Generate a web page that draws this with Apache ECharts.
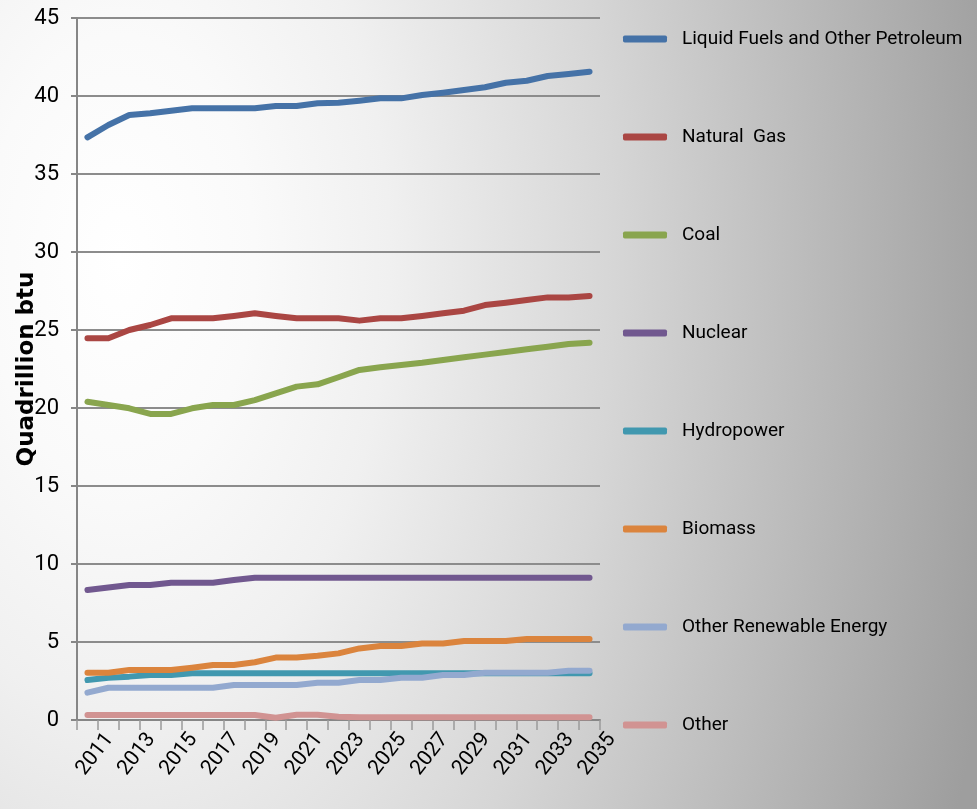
<!DOCTYPE html>
<html>
<head>
<meta charset="utf-8">
<title>Energy consumption by fuel</title>
<script src="https://cdn.jsdelivr.net/npm/echarts@6/dist/echarts.min.js"></script>
<style>
	html,body{margin:0;padding:0;}
	#main{
		width:977px;height:809px;
		background:radial-gradient(ellipse 900px 1500px at 120px 260px,#ffffff 0%,#fafafa 15%,#f0f0f0 30%,#d6d6d6 55%,#9e9e9e 100%);
	}
</style>
</head>
<body>
<div id="main"></div>
<script>
	// years on the x axis
	var years = [];
	for (var y = 2011; y <= 2035; y++) { years.push(String(y)); }

	var seriesNames = ['Liquid Fuels and Other Petroleum','Natural  Gas','Coal','Nuclear','Hydropower','Biomass','Other Renewable Energy','Other'];
	var seriesColors = ['#4572A7','#AA4643','#89A54E','#71588F','#4198AF','#DB843D','#93A9CF','#D19392'];

	// values (quadrillion btu)
	var liquids = [37.35,38.14,38.78,38.89,39.06,39.21,39.21,39.21,39.21,39.36,39.36,39.53,39.57,39.7,39.85,39.85,40.06,40.21,40.38,40.56,40.85,40.98,41.28,41.41,41.56];
	var gas = [24.47,24.47,25.0,25.32,25.75,25.75,25.75,25.9,26.07,25.9,25.75,25.75,25.75,25.6,25.75,25.75,25.9,26.07,26.24,26.6,26.75,26.92,27.09,27.09,27.18];
	var coal = [20.4,20.19,19.98,19.62,19.62,19.98,20.19,20.19,20.51,20.94,21.37,21.52,21.97,22.44,22.61,22.76,22.9,23.08,23.25,23.42,23.59,23.76,23.93,24.1,24.19];
	var nuclear = [8.33,8.5,8.65,8.65,8.8,8.8,8.8,8.97,9.12,9.12,9.12,9.12,9.12,9.12,9.12,9.12,9.12,9.12,9.12,9.12,9.12,9.12,9.12,9.12,9.12];
	var hydro = [2.56,2.71,2.78,2.88,2.88,2.99,3.0,3.0,3.0,3.0,3.0,3.0,3.0,3.0,3.0,3.0,3.0,3.0,3.0,3.0,3.0,3.0,3.0,3.0,3.0];
	var biomass = [3.03,3.03,3.2,3.2,3.2,3.35,3.53,3.53,3.7,4.0,4.0,4.12,4.27,4.59,4.74,4.74,4.91,4.91,5.06,5.06,5.06,5.19,5.19,5.19,5.19];
	var otherRenew = [1.75,2.07,2.07,2.07,2.07,2.07,2.07,2.24,2.24,2.24,2.24,2.39,2.39,2.56,2.56,2.71,2.71,2.88,2.88,3.03,3.03,3.03,3.03,3.16,3.16];
	var other = [0.32,0.32,0.32,0.32,0.32,0.32,0.32,0.32,0.32,0.15,0.34,0.34,0.21,0.17,0.17,0.17,0.17,0.17,0.17,0.17,0.17,0.17,0.17,0.17,0.17];
	var seriesData = [liquids,gas,coal,nuclear,hydro,biomass,otherRenew,other];

	var yTicks = {min:0, max:45, step:5};

	var narrow = "Roboto,'Liberation Sans',sans-serif";
	var axisGrey = '#868686';

	var series = [];
	for (var i = 0; i < seriesNames.length; i++) {
		series.push({
			name: seriesNames[i],
			type: 'line',
			data: seriesData[i],
			symbol: 'none',
			lineStyle: {width: 6, color: seriesColors[i], cap: 'round', join: 'round'},
			itemStyle: {color: seriesColors[i]},
			emphasis: {disabled: true}
		});
	}

	var myChart = echarts.init(document.getElementById('main'));
	var option = {
		backgroundColor: 'transparent',
		animation: false,
		grid: {left: 77, right: 377, top: 18, bottom: 89, outerBoundsMode: 'none', containLabel: false},
		legend: {
			orient: 'vertical',
			left: 623,
			top: 25,
			padding: 0,
			icon: 'roundRect',
			itemWidth: 44,
			itemHeight: 7,
			itemGap: 70,
			textStyle: {fontFamily: narrow, fontSize: 19, color: '#000', lineHeight: 28, padding: [0,0,0,10]},
			data: seriesNames
		},
		xAxis: {
			type: 'category',
			data: years,
			boundaryGap: true,
			axisLine: {lineStyle: {color: axisGrey, width: 2}},
			axisTick: {show: true, interval: 0, length: 10, lineStyle: {color: '#9a9a9a', width: 1.5}},
			// labels sit a bit right of the category centre, as in the source
			axisLabel: {interval: 1, rotate: 52, margin: 44, padding: [0,-36,0,0], fontFamily: narrow, fontSize: 21, color: '#000'},
			splitLine: {show: false}
		},
		yAxis: {
			type: 'value',
			min: yTicks.min,
			max: yTicks.max,
			interval: yTicks.step,
			name: 'Quadrillion btu',
			nameLocation: 'middle',
			nameGap: 38,
			nameMoveOverlap: false,
			nameTextStyle: {fontFamily: "'DejaVu Sans',sans-serif", fontWeight: 'bold', fontSize: 23, color: '#000'},
			axisLine: {show: true, lineStyle: {color: axisGrey, width: 2}},
			axisTick: {show: true, length: 6, lineStyle: {color: axisGrey, width: 2}},
			axisLabel: {margin: 18, fontFamily: narrow, fontSize: 22, color: '#000'},
			splitLine: {lineStyle: {color: '#8c8c8c', width: 2}}
		},
		series: series
	};
	myChart.setOption(option);
</script>
</body>
</html>
